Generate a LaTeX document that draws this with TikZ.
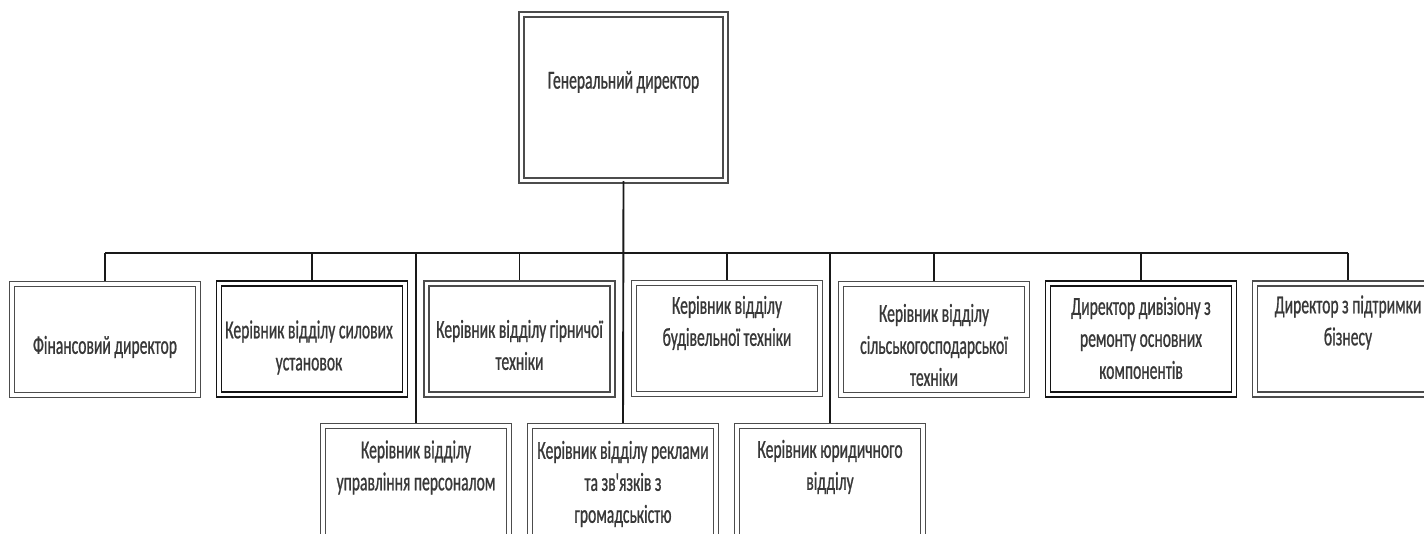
\documentclass[tikz,border=0pt]{standalone}
\usepackage{fontspec}
\setmainfont{Carlito}
\newfontfamily\boxfont[FakeStretch=0.6,FakeBold=0.8]{Carlito}
\tikzset{
  box/.style={draw=black!70, line width=1.3pt, double=white, double distance=3.7pt,
    minimum width=186pt, minimum height=111pt, inner sep=0pt},
  heavy/.style={draw=black!92, line width=1.7pt, double distance=3.3pt},
  lbl/.style={font=\boxfont\fontsize{26}{32}\selectfont, text=black!78, align=center, inner sep=0pt},
  conn/.style={draw=black!90, line width=1.9pt, shorten >=2.5pt},
}
\begin{document}
\begin{tikzpicture}[x=1pt,y=-1pt]
\useasboundingbox (0,0) rectangle (1424,534);
% top
\node[box, minimum width=204pt, minimum height=166pt] (gd) at (623.5,97.5) {};
\node[lbl] (gdt) at (623.5,82) {Генеральний директор};
% first row
\node[box] (b1) at (105,339.5) {};
\node[box,heavy] (b2) at (312,339) {};
\node[box] (b3) at (519.5,339) {};
\node[box] (b4) at (727,338.5) {};
\node[box] (b5) at (934,339.5) {};
\node[box,heavy] (b6) at (1141,339) {};
\node[box] (b7) at (1348,339) {};
% second row
\node[box] (b8) at (416,481.5) {};
\node[box] (b9) at (623,481.5) {};
\node[box] (b10) at (830,481.5) {};
% labels
\node[lbl] (t1) at (105,347) {Фінансовий директор};
\node[lbl] (t2) at (309,347.5) {Керівник відділу силових\\установок};
\node[lbl] (t3) at (519.5,345) {Керівник відділу гірничої\\техніки};
\node[lbl] (t4) at (727,323) {Керівник відділу\\будівельної техніки};
\node[lbl] (t5) at (934,345) {Керівник відділу\\сільськогосподарської\\техніки};
\node[lbl] (t6) at (1141,338) {Директор дивізіону з\\ремонту основних\\компонентів};
\node[lbl] (t7) at (1348,322.5) {Директор з підтримки\\бізнесу};
\node[lbl] (t8) at (416,467.5) {Керівник відділу\\управління персоналом};
\node[lbl] (t9) at (623,484) {Керівник відділу реклами\\та зв'язків з\\громадськістю};
\node[lbl] (t10) at (830,467) {Керівник юридичного\\відділу};
% bus
\coordinate (busL) at (105,253);
\coordinate (busR) at (1348,253);
\draw[conn, shorten >=0pt] (busL) -- (busR);
\draw[conn] (gd.south) -- (b9.north);
\foreach \b in {b1,b2,b3,b4,b5,b6,b7}{
  \draw[conn] (\b.north |- busL) -- (\b.north);
}
\foreach \b in {b8,b10}{
  \draw[conn] (\b.north |- busL) -- (\b.north);
}
\end{tikzpicture}
\end{document}
